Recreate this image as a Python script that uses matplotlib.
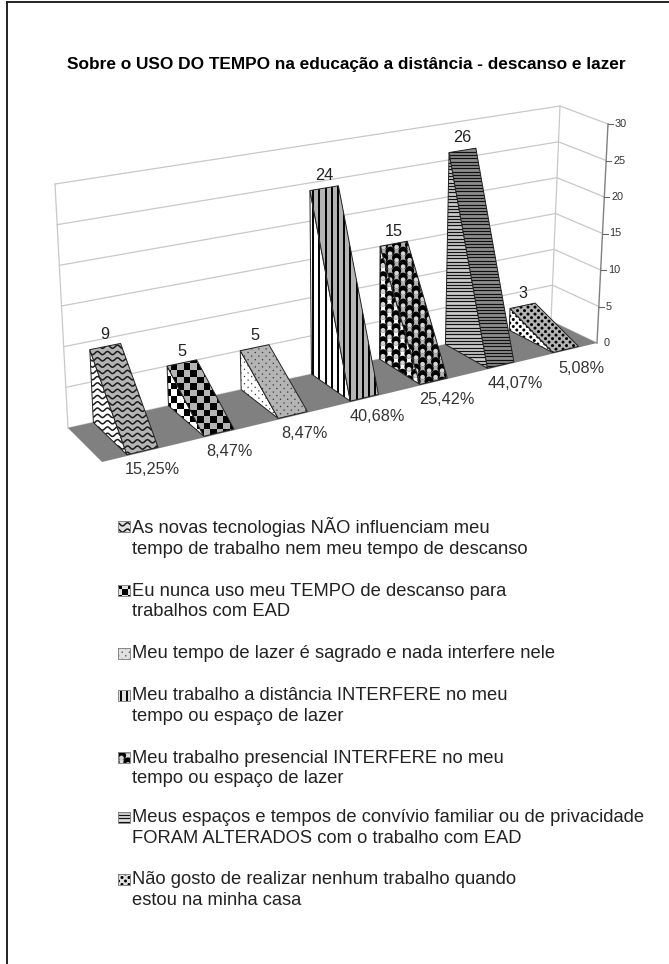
import numpy as np
import matplotlib
matplotlib.use('Agg')
import matplotlib.pyplot as plt
from matplotlib.patches import Polygon, Circle, Rectangle

plt.rcParams['font.family'] = ['Liberation Sans', 'DejaVu Sans']

title = 'Sobre o USO DO TEMPO na educação a distância - descanso e lazer'
counts = [9, 5, 5, 24, 15, 26, 3]
pct_labels = ['15,25%', '8,47%', '8,47%', '40,68%', '25,42%', '44,07%', '5,08%']
legend_labels = [
    'As novas tecnologias NÃO influenciam meu\ntempo de trabalho nem meu tempo de descanso',
    'Eu nunca uso meu TEMPO de descanso para\ntrabalhos com EAD',
    'Meu tempo de lazer é sagrado e nada interfere nele',
    'Meu trabalho a distância INTERFERE no meu\ntempo ou espaço de lazer',
    'Meu trabalho presencial INTERFERE no meu\ntempo ou espaço de lazer',
    'Meus espaços e tempos de convívio familiar ou de privacidade\nFORAM ALTERADOS com o trabalho com EAD',
    'Não gosto de realizar nenhum trabalho quando\nestou na minha casa',
]
legend_y = [537.5, 601.5, 654, 706, 768.5, 828, 890]
value_ticks = [0, 5, 10, 15, 20, 25, 30]
value_max = 30

# corners of the box, order: back left, back right, front right, front left
floor_box = np.array([[68, 428], [551, 321], [597, 343], [102, 462]], float)
top_box = np.array([[55, 184], [560, 106], [608, 124], [86, 208]], float)
perspective = 0.12

fig = plt.figure(figsize=(6.69, 9.64), dpi=100)
ax = fig.add_axes([0, 0, 1, 1])
ax.set_xlim(0, 669)
ax.set_ylim(964, 0)
ax.axis('off')


def on_quad(quad, u, v):
    back = quad[0] + (quad[1] - quad[0]) * u
    front = quad[3] + (quad[2] - quad[3]) * u
    return back + (front - back) * v


def project(u, v, z=0):
    # u along the categories, v from back to front, z the value
    u = u * (1 + perspective) / (1 + perspective * u)
    p0 = on_quad(floor_box, u, v)
    p1 = on_quad(top_box, u, v)
    return p0 + (p1 - p0) * z / value_max


def fill_wave(add, x0, x1, y0, y1):
    xs = np.arange(x0, x1, 0.5)
    for y in np.arange(y0, y1, 6.3):
        add(ax.plot(xs, y + 1.6*np.sin(xs*2*np.pi/10), color='#1a1a1a', lw=1.1)[0])


def fill_checker(add, x0, x1, y0, y1):
    s = 6.6
    for i, x in enumerate(np.arange(x0, x1, s)):
        for j, y in enumerate(np.arange(y0, y1, s)):
            if (i + j) % 2 == 0:
                add(ax.add_patch(Rectangle((x, y), s, s, fc='black', ec='none')))


def fill_fine_dots(add, x0, x1, y0, y1):
    s = 3.6
    for i, x in enumerate(np.arange(x0, x1, s)):
        for j, y in enumerate(np.arange(y0, y1, s)):
            if (i + j) % 2 == 0:
                add(ax.add_patch(Circle((x, y), 0.7, fc='#333333', ec='none')))


def fill_stripes(add, x0, x1, y0, y1):
    for x in np.arange(x0, x1, 6.2):
        add(ax.plot([x, x], [y0, y1], color='black', lw=1.4)[0])


def fill_shingle(add, x0, x1, y0, y1):
    s = 13.0
    for j, y in enumerate(np.arange(y0, y1, s/2)):
        for x in np.arange(x0 + (j % 2)*s/2, x1, s):
            add(ax.add_patch(Circle((x, y), 4.6, fc='black', ec='none')))
            add(ax.add_patch(Circle((x, y + 2.4), 2.3, fc='#d4d4d4', ec='none')))


def fill_hlines(add, x0, x1, y0, y1):
    for y in np.arange(y0, y1, 3.3):
        add(ax.plot([x0, x1], [y, y], color='#111111', lw=0.9)[0])


def fill_dots(add, x0, x1, y0, y1):
    s = 7.0
    for j, y in enumerate(np.arange(y0, y1, s/2)):
        for x in np.arange(x0 + (j % 2)*s/2, x1, s):
            add(ax.add_patch(Circle((x, y), 1.5, fc='black', ec='none')))


pattern_fills = [fill_wave, fill_checker, fill_fine_dots, fill_stripes,
                 fill_shingle, fill_hlines, fill_dots]
front_colors = ['#b4b4b4', '#b4b4b4', '#b4b4b4', '#b4b4b4', '#b4b4b4', '#8e8e8e', '#b4b4b4']
side_colors = ['white', 'white', 'white', 'white', 'white', '#cccccc', 'white']


def patterned_poly(points, fill, face, zorder, edge='#222222'):
    points = np.asarray(points)
    poly = Polygon(points, closed=True, fc=face, ec='none', zorder=zorder)
    ax.add_patch(poly)
    x0, y0 = points.min(axis=0) - 3
    x1, y1 = points.max(axis=0) + 3

    def add(artist):
        artist.set_zorder(zorder + 0.1)
        artist.set_clip_path(poly)

    fill(add, x0, x1, y0, y1)
    ax.add_patch(Polygon(points, closed=True, fc='none', ec=edge, lw=0.7, zorder=zorder + 0.2))


# back wall, side wall and floor
for t in value_ticks:
    a, b, c = project(0, 0, t), project(1, 0, t), project(1, 1, t)
    ax.plot([a[0], b[0], c[0]], [a[1], b[1], c[1]], color='#c8c8c8', lw=0.9, zorder=1)
ax.plot(*zip(project(0, 0, 0), project(0, 0, value_max)), color='#c8c8c8', lw=0.9, zorder=1)
ax.plot(*zip(project(1, 0, 0), project(1, 0, value_max)), color='#c8c8c8', lw=0.9, zorder=1)
ax.add_patch(Polygon(floor_box, closed=True, fc='#808080', ec='none', zorder=2))

# value axis on the front right edge
ax.plot(*zip(project(1, 1, 0), project(1, 1, value_max)), color='#808080', lw=1.0, zorder=3)
for t in value_ticks:
    x, y = project(1, 1, t)
    if t > 0:
        ax.plot([x, x + 5], [y, y], color='#666666', lw=0.8, zorder=3)
    ax.text(x + 7, y, str(t), fontsize=7.8, color='#333333', ha='left', va='center')

# one wedge per category, drawn back to front from left to right
n = len(counts)
bar_w = 0.40
depth_back, depth_front = 0.0, 0.97
for i, value in enumerate(counts):
    u0 = (i + 0.33) / n
    u1 = u0 + bar_w / n
    top_l = project(u0, depth_back, value)
    top_r = project(u1, depth_back, value)
    base_l = project(u0, depth_back, 0)
    front_l = project(u0, depth_front, 0)
    front_r = project(u1, depth_front, 0)
    z = 5 + i
    patterned_poly([top_l, base_l, front_l], pattern_fills[i], side_colors[i], z)
    patterned_poly([top_l, top_r, front_r, front_l], pattern_fills[i], front_colors[i], z + 0.3)
    cx = (top_l[0] + top_r[0]) / 2
    ax.text(cx, top_l[1] - 15, str(value), fontsize=11.7, color='#222222',
            ha='center', va='center', zorder=30)
    ax.text(front_r[0] - 6 + 1.5*i, front_r[1] + 22, pct_labels[i], fontsize=11.7, color='#333333',
            ha='center', va='center', zorder=30)

ax.text(346, 65, title, fontsize=12.4, fontweight='bold', color='black', ha='center', va='center')

# legend entries with a small swatch of each pattern
for i, (label, y) in enumerate(zip(legend_labels, legend_y)):
    first_line = y - 10.5 if '\n' in label else y
    ax.text(132, y, label, fontsize=13.25, color='#222222', ha='left', va='center', linespacing=1.28)
    sw = [(118, first_line - 6), (130, first_line - 6), (130, first_line + 5), (118, first_line + 5)]
    patterned_poly(sw, pattern_fills[i], '#e0e0e0', 40, edge='#888888')

# page border, open on the right and at the bottom
ax.plot([7, 7], [964, 2], color='#222222', lw=1.4)
ax.plot([7, 669], [2, 2], color='#222222', lw=1.4)

fig.savefig('out.png', dpi=100)
